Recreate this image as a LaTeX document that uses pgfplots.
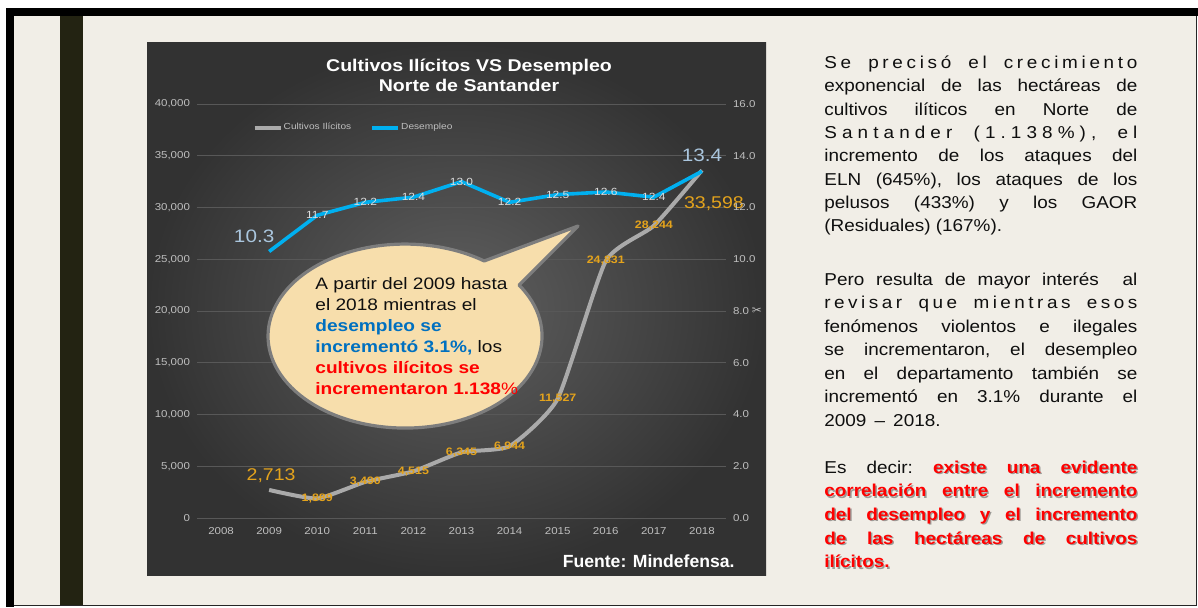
\documentclass[border=0pt]{standalone}
\usepackage{fontspec}
\setmainfont{Liberation Sans}
\newfontfamily\chartfont[FakeStretch=1.15]{Liberation Sans}
\newfontfamily\bodyff[FakeStretch=1.1]{Liberation Sans}
\newfontfamily\symfont{DejaVu Sans}
\usepackage{pgfplots}
\usepackage{pgfplotstable}
\pgfplotsset{compat=1.18}

\definecolor{cream}{RGB}{241,238,231}
\definecolor{darkbar}{RGB}{35,35,18}
\definecolor{panello}{RGB}{50,50,50}
\definecolor{panelhi}{RGB}{96,96,96}
\definecolor{gridc}{RGB}{88,88,88}
\definecolor{lblgray}{RGB}{191,191,191}
\definecolor{cultgray}{RGB}{170,170,170}
\definecolor{desblue}{RGB}{0,176,240}
\definecolor{gold}{RGB}{228,163,28}
\definecolor{bigblue}{RGB}{170,198,222}
\definecolor{deslbl}{RGB}{222,222,222}
\definecolor{bubblefill}{RGB}{247,222,172}
\definecolor{bubbleedge}{RGB}{125,125,125}
\definecolor{txtblue}{RGB}{0,112,192}
\definecolor{txtred}{RGB}{255,0,0}
\definecolor{bodytxt}{RGB}{15,15,15}

\pgfplotstableread{
year cult
2009 2713
2010 1889
2011 3490
2012 4515
2013 6345
2014 6944
2015 11527
2016 24831
2017 28244
2018 33598
}\cultdata

\pgfplotstableread{
year des
2009 10.3
2010 11.7
2011 12.2
2012 12.4
2013 13.0
2014 12.2
2015 12.5
2016 12.6
2017 12.4
2018 13.4
}\desdata

\newcommand\tickfont{\chartfont\fontsize{5}{6}\selectfont}
\newcommand\legfont{\chartfont\fontsize{4.4}{5}\selectfont}
\newcommand\bodyfont{\bodyff\fontsize{8.6}{10}\selectfont\frenchspacing}
\newcommand\lsp{\hskip0pt plus1fill\relax}
\newcommand\wsp{\hskip3pt plus3fill\relax}
\newcommand\jl[2]{\node[anchor=base west, inner sep=0pt, font=\bodyfont, text=bodytxt] at (824,#1) {\makebox[156.5pt][s]{#2}};}
\newcommand\nl[2]{\node[anchor=base west, inner sep=0pt, font=\bodyfont, text=bodytxt] at (824,#1) {#2};}
\newcommand\rl[2]{%
  \node[anchor=base west, inner sep=0pt, font=\bodyfont\bfseries, text=black, opacity=0.35, xshift=0.7pt, yshift=-0.7pt] at (824,#1) {\makebox[156.5pt][s]{#2}};
  \node[anchor=base west, inner sep=0pt, font=\bodyfont\bfseries, text=txtred] at (824,#1) {\makebox[156.5pt][s]{#2}};}
\newcommand\bl[2]{\node[anchor=base west, inner sep=0pt, font=\chartfont\fontsize{8.3}{10}\selectfont, text=bodytxt] at (315,#1) {#2};}

\begin{document}
\begin{tikzpicture}
\begin{scope}[x=0.5pt,y=-0.5pt]
  \fill[white] (0,0) rectangle (1198,607);
  \fill[cream] (6,8) rectangle (1197,606);
  \fill[black] (6,8) rectangle (1197.5,16);
  \fill[black] (6,8) rectangle (14,607);
  \draw[line width=0.6pt, black!85] (1196.6,16) -- (1196.6,606);
  \draw[line width=0.6pt, black!85] (14,605.8) -- (1197,605.8);
  \fill[darkbar] (60,16) rectangle (83,605);
  \shade[inner color=panelhi, outer color=panello] (147,42) rectangle (766,575);
\end{scope}

\begin{axis}[
  at={(98.5pt,-259pt)}, anchor=south west,
  scale only axis, width=264.5pt, height=207pt,
  xmin=2007.5, xmax=2018.5, ymin=0, ymax=40000,
  axis x line*=bottom, axis y line*=left,
  axis line style={draw=none},
  major tick length=0pt,
  xtick={2008,2009,...,2018},
  ytick={0,5000,...,40000},
  ymajorgrids, grid style={gridc, line width=0.5pt},
  scaled y ticks=false,
  /pgf/number format/assume math mode=true,
  xticklabel style={/pgf/number format/1000 sep={}, font=\tickfont, text=lblgray, yshift=-1pt},
  yticklabel style={/pgf/number format/1000 sep={,}, font=\tickfont, text=lblgray},
  clip=false,
  legend style={at={(0.295,0.942)}, anchor=center, draw=none, fill=none,
    font=\legfont, text=lblgray, legend columns=2,
    nodes={inner sep=0.6pt},
    /tikz/every even column/.append style={column sep=9pt}, inner sep=0pt},
  legend image code/.code={\draw[#1] (0pt,0pt) -- (13pt,0pt);},
]
\addplot[cultgray, line width=2pt, smooth, tension=0.32] table[x=year,y=cult]{\cultdata};
\addlegendentry{Cultivos Ilícitos}
\addplot[draw=none, forget plot, nodes near coords, point meta=y,
  restrict x to domain=2009.5:2017.5, nodes near coords align={center},
  nodes near coords style={font=\chartfont\bfseries\fontsize{5.4}{6}\selectfont, text=gold, /pgf/number format/1000 sep={,}}]
  table[x=year,y=cult]{\cultdata};
\addplot[draw=none, forget plot, nodes near coords, point meta=y,
  restrict x to domain=2008.5:2009.5, nodes near coords align={center},
  nodes near coords style={font=\chartfont\fontsize{8.5}{10}\selectfont, text=gold, xshift=1pt, yshift=7pt, /pgf/number format/1000 sep={,}}]
  table[x=year,y=cult]{\cultdata};
\addplot[draw=none, forget plot, nodes near coords, point meta=y,
  restrict x to domain=2017.5:2018.5, nodes near coords align={center},
  nodes near coords style={font=\chartfont\fontsize{8.5}{10}\selectfont, text=gold, xshift=6pt, yshift=-16.5pt, /pgf/number format/1000 sep={,}}]
  table[x=year,y=cult]{\cultdata};
\addlegendimage{desblue, line width=1.8pt}
\addlegendentry{Desempleo}
\end{axis}

\begin{axis}[
  at={(98.5pt,-259pt)}, anchor=south west,
  scale only axis, width=264.5pt, height=207pt,
  xmin=2007.5, xmax=2018.5, ymin=0, ymax=16,
  axis y line*=right, axis x line=none,
  axis line style={draw=none},
  major tick length=0pt,
  ytick={0,2,4,6,8,10,12,14,16},
  /pgf/number format/assume math mode=true,
  yticklabel style={/pgf/number format/.cd, fixed, fixed zerofill, precision=1, /tikz/.cd, font=\tickfont, text=lblgray},
  clip=false,
]
\addplot[desblue, line width=1.8pt, line join=round] table[x=year,y=des]{\desdata};
\addplot[draw=none, nodes near coords, point meta=y,
  restrict x to domain=2009.5:2017.5, nodes near coords align={center},
  nodes near coords style={font=\chartfont\fontsize{5.2}{6}\selectfont, text=deslbl, /pgf/number format/.cd, fixed, fixed zerofill, precision=1}]
  table[x=year,y=des]{\desdata};
\addplot[draw=none, nodes near coords, point meta=y,
  restrict x to domain=2008.5:2009.5, nodes near coords align={center},
  nodes near coords style={font=\chartfont\fontsize{9}{10}\selectfont, text=bigblue, xshift=-7.5pt, yshift=7.5pt, /pgf/number format/.cd, fixed, fixed zerofill, precision=1}]
  table[x=year,y=des]{\desdata};
\addplot[draw=none, nodes near coords, point meta=y,
  restrict x to domain=2017.5:2018.5, nodes near coords align={center},
  nodes near coords style={font=\chartfont\fontsize{9}{10}\selectfont, text=bigblue, yshift=8pt, /pgf/number format/.cd, fixed, fixed zerofill, precision=1}]
  table[x=year,y=des]{\desdata};
\end{axis}

\begin{scope}[x=0.5pt,y=-0.5pt]
  % title
  \node[anchor=base, inner sep=0pt, text=white, font=\chartfont\bfseries\fontsize{8.5}{10}\selectfont] at (469,71.7) {Cultivos Ilícitos VS Desempleo};
  \node[anchor=base, inner sep=0pt, text=white, font=\chartfont\bfseries\fontsize{8.5}{10}\selectfont] at (469,91.7) {Norte de Santander};
  % scissors glyph
  \node[inner sep=0pt, text=lblgray, font=\symfont\fontsize{6}{6}\selectfont] at (757,311) {✂};
  % callout
  \draw[bubbleedge, line width=1.6pt, fill=bubblefill, line join=round]
    (519,285) arc[start angle=-33.7, end angle=305.3, x radius=137, y radius=92] -- (578,226) -- cycle;
  \bl{289.3}{A partir del 2009 hasta}
  \bl{310.4}{el 2018 mientras el}
  \bl{331.5}{\color{txtblue}\bfseries desempleo se}
  \bl{352.6}{{\color{txtblue}\bfseries incrementó 3.1\%,} los}
  \bl{373.7}{\color{txtred}\bfseries cultivos ilícitos se}
  \bl{394.8}{{\color{txtred}\bfseries incrementaron 1.138}{\color{txtred}\%}}
  % source
  \node[anchor=base east, inner sep=0pt, text=white, font=\bfseries\fontsize{8.8}{10}\selectfont] at (735,567) {Fuente: Mindefensa.};
  % right text
  \jl{68.3}{S\lsp e\wsp p\lsp r\lsp e\lsp c\lsp i\lsp s\lsp ó\wsp e\lsp l\wsp c\lsp r\lsp e\lsp c\lsp i\lsp m\lsp i\lsp e\lsp n\lsp t\lsp o}
  \jl{91.7}{exponencial de las hectáreas de}
  \jl{115.0}{cultivos ilíticos en Norte de}
  \jl{138.4}{S\lsp a\lsp n\lsp t\lsp a\lsp n\lsp d\lsp e\lsp r\wsp (\lsp 1\lsp .\lsp 1\lsp 3\lsp 8\lsp \%\lsp )\lsp ,\wsp e\lsp l}
  \jl{161.7}{incremento de los ataques del}
  \jl{185.0}{ELN (645\%), los ataques de los}
  \jl{208.4}{pelusos (433\%) y los GAOR}
  \nl{231.8}{(Residuales) (167\%).}
  \jl{285.0}{Pero resulta de mayor interés \ al}
  \jl{308.5}{r\lsp e\lsp v\lsp i\lsp s\lsp a\lsp r\wsp q\lsp u\lsp e\wsp m\lsp i\lsp e\lsp n\lsp t\lsp r\lsp a\lsp s\wsp e\lsp s\lsp o\lsp s}
  \jl{332.0}{fenómenos violentos e ilegales}
  \jl{355.5}{se incrementaron, el desempleo}
  \jl{379.0}{en el departamento también se}
  \jl{402.5}{incrementó en 3.1\% durante el}
  \nl{426.0}{2009 \,–\, 2018.}
  \node[anchor=base west, inner sep=0pt, font=\bodyfont, text=black, opacity=0.35, xshift=0.7pt, yshift=-0.7pt] at (824,473.3) {\makebox[156.5pt][s]{\phantom{Es} \phantom{decir:} {\bfseries existe una evidente}}};
  \node[anchor=base west, inner sep=0pt, font=\bodyfont, text=bodytxt] at (824,473.3) {\makebox[156.5pt][s]{Es decir: {\bfseries\color{txtred}existe una evidente}}};
  \rl{496.9}{correlación entre el incremento}
  \rl{520.5}{del desempleo y el incremento}
  \rl{544.0}{de las hectáreas de cultivos}
  \node[anchor=base west, inner sep=0pt, font=\bodyfont\bfseries, text=black, opacity=0.35, xshift=0.7pt, yshift=-0.7pt] at (824,567.7) {ilícitos.};
  \node[anchor=base west, inner sep=0pt, font=\bodyfont\bfseries, text=txtred] at (824,567.7) {ilícitos.};
\end{scope}
\pgfresetboundingbox
\path[use as bounding box] (0pt,0pt) rectangle (599pt,-303.5pt);
\end{tikzpicture}
\end{document}
